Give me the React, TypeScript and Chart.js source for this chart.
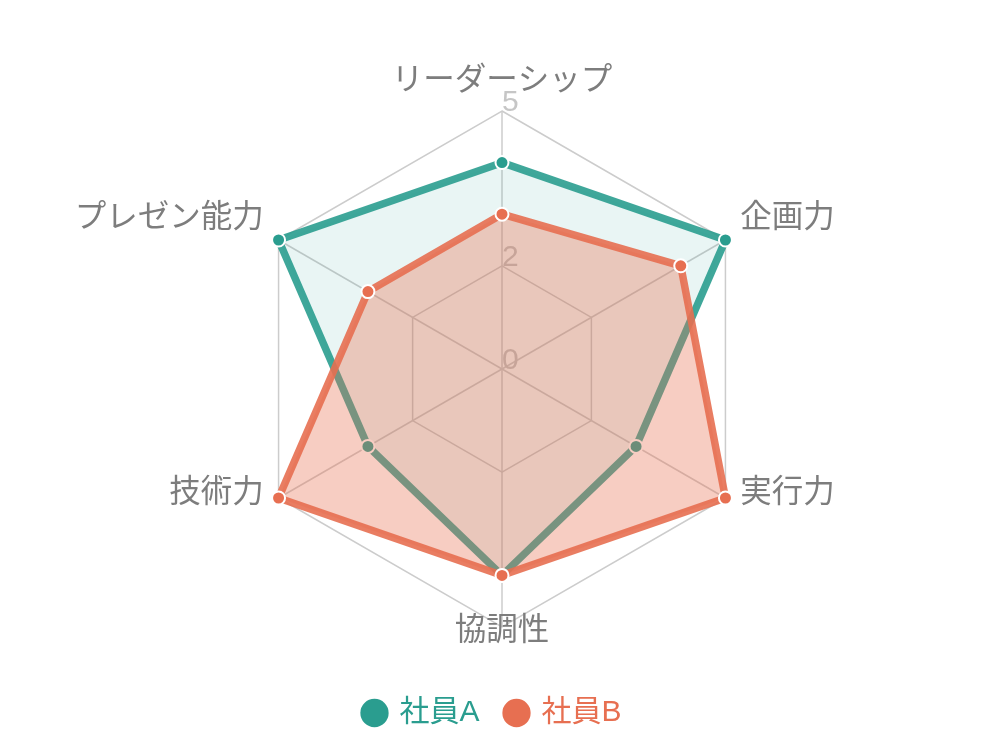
import React, { useEffect, useRef } from 'react';
import { Chart, registerables } from 'chart.js';

Chart.register(...registerables);

// axis categories, clockwise from the top
const skillLabels = ['リーダーシップ', '企画力', '実行力', '協調性', '技術力', 'プレゼン能力'];
const seriesNames = ['社員A', '社員B'];
const employeeA = [4, 5, 3, 4, 3, 5];
const employeeB = [3, 4, 5, 4, 5, 3];
// rings / tick labels on the radial axis
const tickValues = [0, 2, 5];

const TEAL = '#2a9d8f';
const CORAL = '#e76f51';
const FONT = '"Liberation Sans", "Noto Sans CJK JP", sans-serif';

// tick labels and point labels, drawn with the scale's own geometry
const radarTextPlugin = {
    id: 'radarText',
    afterLayout(chart: any) {
        // legend sits a little left of centre in the original
        if (chart.legend) {
            chart.legend.left -= 9;
            chart.legend.right -= 9;
        }
    },
    beforeDatasetsDraw(chart: any) {
        const scale = chart.scales.r;
        const ctx = chart.ctx;
        ctx.save();

        ctx.font = `30px ${FONT}`;
        ctx.fillStyle = '#c6c6c6';
        ctx.textAlign = 'left';
        ctx.textBaseline = 'alphabetic';
        scale.ticks.forEach((t: any) => {
            const d = scale.getDistanceFromCenterForValue(t.value);
            ctx.fillText(String(t.value), scale.xCenter, scale.yCenter - d);
        });

        ctx.font = `31.5px ${FONT}`;
        ctx.fillStyle = '#7d7d7d';
        ctx.textBaseline = 'middle';
        skillLabels.forEach((label, i) => {
            const p = scale.getPointPosition(i, scale.drawingArea + 17);
            const dx = p.x - scale.xCenter;
            ctx.textAlign = Math.abs(dx) < 2 ? 'center' : dx < 0 ? 'right' : 'left';
            ctx.fillText(label, p.x, p.y - 13);
        });
        ctx.restore();
    },
};

const SkillRadarChart: React.FC = () => {
    const chartRef = useRef<HTMLCanvasElement>(null);
    const chartInstance = useRef<Chart | null>(null);

    useEffect(() => {
        if (!chartRef.current) return;
        if (chartInstance.current) chartInstance.current.destroy();
        const ctx = chartRef.current.getContext('2d');
        if (!ctx) return;

        const colors = [TEAL, CORAL];

        chartInstance.current = new Chart(ctx, {
            type: 'radar',
            data: {
                labels: skillLabels,
                datasets: [
                    {
                        label: seriesNames[0],
                        data: employeeA,
                        order: 1,
                        fill: true,
                        backgroundColor: 'rgba(42, 157, 143, 0.1)',
                        borderColor: 'rgba(42, 157, 143, 0.9)',
                        borderWidth: 7.5,
                        pointBackgroundColor: TEAL,
                        pointBorderColor: '#ffffff',
                        pointBorderWidth: 2,
                        pointRadius: 6.5,
                    },
                    {
                        label: seriesNames[1],
                        data: employeeB,
                        order: 0,
                        fill: true,
                        backgroundColor: 'rgba(231, 111, 81, 0.35)',
                        borderColor: 'rgba(231, 111, 81, 0.9)',
                        borderWidth: 7.5,
                        pointBackgroundColor: CORAL,
                        pointBorderColor: '#ffffff',
                        pointBorderWidth: 2,
                        pointRadius: 6.5,
                    },
                ],
            },
            options: {
                animation: false,
                responsive: true,
                maintainAspectRatio: false,
                layout: { padding: { left: 244, right: 244, top: 68, bottom: -2 } },
                elements: { line: { tension: 0 } },
                scales: {
                    r: {
                        min: 0,
                        max: 5,
                        afterBuildTicks: (scale: any) => {
                            scale.ticks = tickValues.map((v) => ({ value: v }));
                        },
                        ticks: { display: false },
                        pointLabels: { display: false },
                        grid: { color: '#cccccc', lineWidth: 1.5 },
                        angleLines: { color: '#cccccc', lineWidth: 1.5 },
                    },
                },
                plugins: {
                    tooltip: { enabled: false },
                    legend: {
                        position: 'bottom',
                        reverse: true,
                        labels: {
                            usePointStyle: true,
                            pointStyle: 'circle',
                            boxWidth: 20,
                            boxHeight: 20,
                            padding: 27,
                            font: { size: 30, family: FONT },
                            generateLabels: (c: any) =>
                                Chart.defaults.plugins.legend.labels
                                    .generateLabels(c)
                                    .map((item: any) => ({
                                        ...item,
                                        fontColor: colors[item.datasetIndex],
                                        fillStyle: colors[item.datasetIndex],
                                        strokeStyle: colors[item.datasetIndex],
                                        lineWidth: 0,
                                    })),
                        },
                    },
                },
            },
            plugins: [radarTextPlugin],
        });

        return () => {
            if (chartInstance.current) {
                chartInstance.current.destroy();
                chartInstance.current = null;
            }
        };
    }, []);

    return <canvas ref={chartRef}></canvas>;
};

export default function App() {
    return (
        <div style={{ position: 'fixed', left: 0, top: 0, width: '100vw', height: '100vh', background: '#fff' }}>
            <SkillRadarChart />
        </div>
    );
}
